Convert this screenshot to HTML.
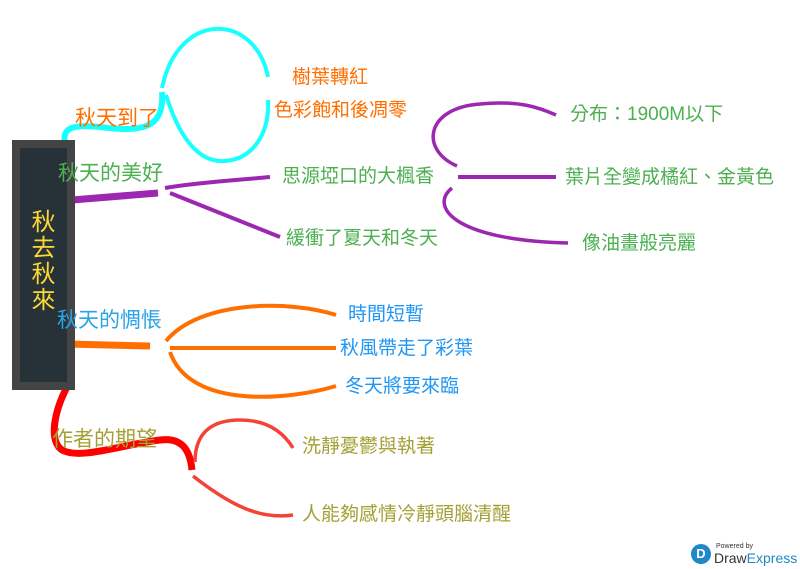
<!DOCTYPE html>
<html><head><meta charset="utf-8"><style>
html,body{margin:0;padding:0;background:#fff;}
body{width:800px;height:569px;position:relative;overflow:hidden;font-family:"Liberation Sans","Noto Sans CJK TC",sans-serif;}
.t{position:absolute;font-size:19px;white-space:nowrap;line-height:1;}
</style></head><body>
<svg width="800" height="569" style="position:absolute;left:0;top:0" fill="none" stroke-linecap="butt">
<path d="M65,143 C62,128 72,124 100,127 C140,132 165,130 162,92" stroke="#18ffff" stroke-width="6"/>
<path d="M162,88 C178,10 255,12 268,77" stroke="#18ffff" stroke-width="4"/>
<path d="M166,95 C180,140 200,163 225,161 C255,159 270,130 268,100" stroke="#18ffff" stroke-width="4"/>
<path d="M72,200 L158,193" stroke="#9c27b0" stroke-width="7"/>
<path d="M165,188 C200,182 240,180 270,177" stroke="#9c27b0" stroke-width="4"/>
<path d="M170,193 L280,237" stroke="#9c27b0" stroke-width="4"/>
<path d="M458,177 L556,177" stroke="#9c27b0" stroke-width="4"/>
<path d="M457,166 C420,150 425,108 480,104 C520,100 540,108 556,115" stroke="#9c27b0" stroke-width="3.5"/>
<path d="M452,188 C430,205 450,240 568,243" stroke="#9c27b0" stroke-width="3.5"/>
<path d="M67,344 L150,346" stroke="#ff6f00" stroke-width="7"/>
<path d="M166,341 C200,300 290,300 336,315" stroke="#ff6f00" stroke-width="4"/>
<path d="M170,348 L336,348" stroke="#ff6f00" stroke-width="4"/>
<path d="M170,352 C190,410 290,400 336,386" stroke="#ff6f00" stroke-width="4"/>
<path d="M67,387 C55,410 48,440 62,450 C80,460 120,445 160,440 C182,437 190,450 192,470" stroke="#f00" stroke-width="7"/>
<path d="M195,462 C195,430 215,420 240,420 C270,420 285,435 293,448" stroke="#f44336" stroke-width="3.5"/>
<path d="M193,476 C230,505 260,520 293,515" stroke="#f44336" stroke-width="3.5"/>
</svg>
<div style="position:absolute;left:12px;top:140px;width:63px;height:250px;background:#444;"></div>
<div style="position:absolute;left:20px;top:148px;width:47px;height:234px;background:#263238;"></div>
<div style="position:absolute;left:20px;top:210px;width:47px;text-align:center;color:#fdd835;font-size:24px;line-height:26px;">秋<br>去<br>秋<br>來</div>

<div class="t" style="left:75px;top:108px;color:#ff6f00;font-size:21px;">秋天到了</div>
<div class="t" style="left:292px;top:68px;color:#ff6f00;">樹葉轉紅</div>
<div class="t" style="left:274px;top:101px;color:#ff6f00;">色彩飽和後凋零</div>

<div class="t" style="left:58px;top:163px;color:#4caf50;font-size:21px;">秋天的美好</div>
<div class="t" style="left:282px;top:167px;color:#4caf50;">思源埡口的大楓香</div>
<div class="t" style="left:286px;top:229px;color:#4caf50;">緩衝了夏天和冬天</div>
<div class="t" style="left:570px;top:105px;color:#4caf50;">分布：1900M以下</div>
<div class="t" style="left:565px;top:168px;color:#4caf50;">葉片全變成橘紅、金黃色</div>
<div class="t" style="left:582px;top:234px;color:#4caf50;">像油畫般亮麗</div>

<div class="t" style="left:57px;top:310px;color:#29a3e8;font-size:21px;">秋天的惆悵</div>
<div class="t" style="left:348px;top:305px;color:#2196f3;">時間短暫</div>
<div class="t" style="left:340px;top:339px;color:#2196f3;">秋風帶走了彩葉</div>
<div class="t" style="left:345px;top:377px;color:#2196f3;">冬天將要來臨</div>

<div class="t" style="left:52px;top:429px;color:#a5a035;font-size:21px;">作者的期望</div>
<div class="t" style="left:302px;top:437px;color:#a5a035;">洗靜憂鬱與執著</div>
<div class="t" style="left:302px;top:505px;color:#a5a035;">人能夠感情冷靜頭腦清醒</div>

<div style="position:absolute;left:691px;top:544px;width:20px;height:20px;border-radius:50%;background:#1e88c8;color:#fff;font-size:13px;font-weight:bold;text-align:center;line-height:20px;">D</div>
<div class="t" style="left:716px;top:543px;font-size:7px;color:#333;">Powered by</div>
<div class="t" style="left:714px;top:551px;font-size:14px;color:#333;">Draw<span style="color:#1e88c8">Express</span></div>
</body></html>
